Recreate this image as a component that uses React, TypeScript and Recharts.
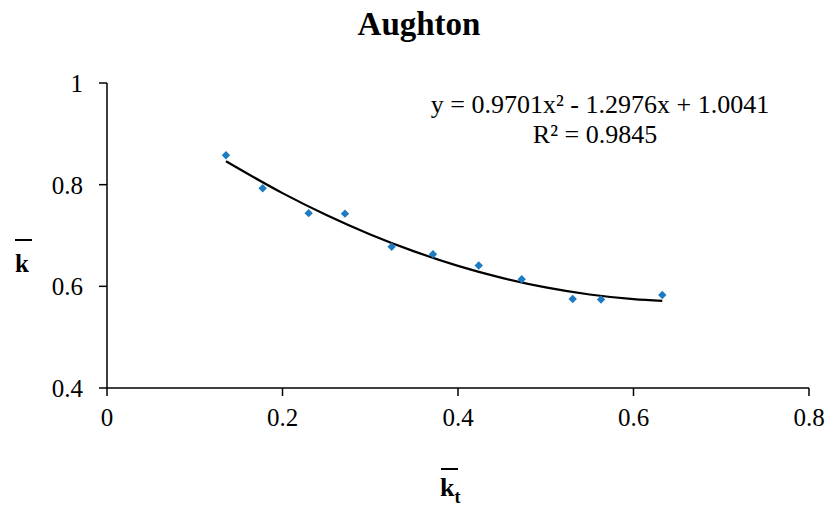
import { ComposedChart, Scatter, Line, XAxis, YAxis } from "recharts";

// observed points (k_t bar vs k bar)
const ktBar = [0.1356, 0.1774, 0.2298, 0.2712, 0.3244, 0.3715, 0.4236, 0.4726, 0.5307, 0.563, 0.6328];
const kBar = [0.858, 0.793, 0.744, 0.743, 0.678, 0.663, 0.641, 0.614, 0.575, 0.574, 0.583];

// polynomial trendline
const trendX = [0.1356, 0.2, 0.25, 0.3, 0.35, 0.4, 0.45, 0.5, 0.55, 0.6, 0.6328];
const trendY = [0.846, 0.7834, 0.7403, 0.7021, 0.6688, 0.6403, 0.6166, 0.5978, 0.5839, 0.5748, 0.5714];

const xTicks = [0, 0.2, 0.4, 0.6, 0.8];
const yTicks = [0.4, 0.6, 0.8, 1];

const title = "Aughton";
const equation = "y = 0.9701x² - 1.2976x + 1.0041";
const rSquared = "R² = 0.9845";

const points = ktBar.map((x, i) => ({ x, y: kBar[i] }));
const trend = trendX.map((x, i) => ({ x, y: trendY[i] }));

const FONT = "'Palatino Linotype', 'Book Antiqua', Palatino, 'Liberation Serif', serif";
const BLUE = "#1F7BC1";

const Diamond = (props: any) => {
    const { cx, cy } = props;
    const r = 4.2;
    return (
        <polygon
            points={`${cx},${cy - r} ${cx + r},${cy} ${cx},${cy + r} ${cx - r},${cy}`}
            fill={BLUE}
        />
    );
};

const fmt = (v: number) => (v === 0 || v === 1 ? String(v) : v.toFixed(1));

export default function App() {
    return (
        <div style={{ position: "absolute", left: 0, top: 0, width: 829, height: 506, background: "#fff" }}>
            <ComposedChart
                width={829}
                height={506}
                margin={{ top: 83, right: 20, bottom: 58, left: 0 }}
            >
                <XAxis
                    type="number"
                    dataKey="x"
                    domain={[0, 0.8]}
                    ticks={xTicks}
                    tickFormatter={fmt}
                    height={60}
                    stroke="#000"
                    strokeWidth={1.5}
                    tickSize={8}
                    tickMargin={12}
                    tick={{ fill: "#000", fontSize: 25, fontFamily: FONT }}
                />
                <YAxis
                    type="number"
                    dataKey="y"
                    domain={[0.4, 1]}
                    ticks={yTicks}
                    tickFormatter={fmt}
                    width={107}
                    stroke="#000"
                    strokeWidth={1.5}
                    tickSize={8}
                    tickMargin={16}
                    tick={{ fill: "#000", fontSize: 25, fontFamily: FONT }}
                />
                <Line
                    data={trend}
                    dataKey="y"
                    type="monotone"
                    stroke="#000"
                    strokeWidth={2.2}
                    dot={false}
                    activeDot={false}
                    isAnimationActive={false}
                />
                <Scatter
                    data={points}
                    dataKey="y"
                    shape={<Diamond />}
                    isAnimationActive={false}
                />
            </ComposedChart>
            <svg
                width={829}
                height={506}
                style={{ position: "absolute", left: 0, top: 0, pointerEvents: "none" }}
                fontFamily={FONT}
            >
                <text x={419} y={35} textAnchor="middle" fontSize={33} fontWeight="bold" fill="#000">
                    {title}
                </text>
                <text x={600} y={113} textAnchor="middle" fontSize={26} fill="#000">
                    {equation}
                </text>
                <text x={595} y={143} textAnchor="middle" fontSize={26} fill="#000">
                    {rSquared}
                </text>
                {/* y axis title: k bar */}
                <line x1={15} x2={32} y1={240} y2={240} stroke="#000" strokeWidth={2} />
                <text x={15} y={272} fontSize={25} fontWeight="bold" fill="#000">
                    k
                </text>
                {/* x axis title: k_t bar */}
                <line x1={441} x2={458} y1={469} y2={469} stroke="#000" strokeWidth={2} />
                <text x={440} y={496} fontSize={26} fontWeight="bold" fill="#000">
                    k
                    <tspan fontSize={18} dy={7}>
                        t
                    </tspan>
                </text>
            </svg>
        </div>
    );
}
